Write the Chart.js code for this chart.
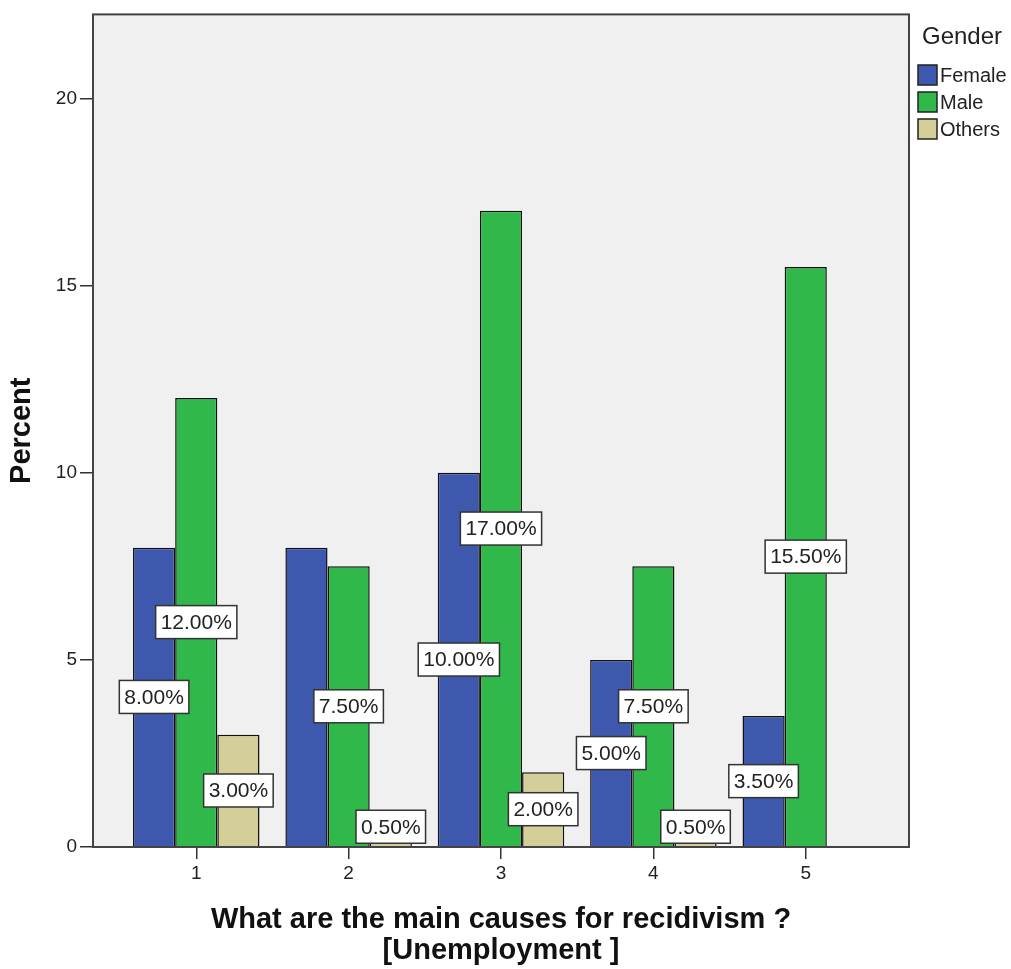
<!DOCTYPE html>
<html>
<head>
<meta charset="utf-8">
<script src="https://cdn.jsdelivr.net/npm/chart.js@4"></script>
<style>
  body { margin: 0; background: #fff; }
  #wrap { width: 1011px; height: 969px; }
</style>
</head>
<body>
<div id="wrap"><canvas id="myChart" width="1011" height="969"></canvas></div>
<script>
// datos
const categorias = [1, 2, 3, 4, 5]
const female = [8, 8, 10, 5, 3.5]
const male = [12, 7.5, 17, 7.5, 15.5]
const others = [3, 0.5, 2, 0.5, null]
const yTicks = [0, 5, 10, 15, 20]
const series = ['Female', 'Male', 'Others']
const colores = ['#3e58ad', '#30b84a', '#d4cf99']
// etiquetas que SPSS no muestra (serie, categoria)
const ocultas = ['0-1']

const FONT = "'Liberation Sans', Arial, sans-serif"

function puntos(arr) {
    return categorias.map((c, i) => ({ x: c, y: arr[i] }))
}

// fondo gris y marco del area
const marco = {
    id: 'marco',
    beforeDraw(chart) {
        const { ctx, chartArea: a } = chart
        ctx.save()
        ctx.fillStyle = '#f0f0f0'
        ctx.fillRect(a.left, a.top, a.right - a.left, a.bottom - a.top)
        ctx.restore()
    },
    afterDraw(chart) {
        const { ctx, chartArea: a } = chart
        ctx.save()
        ctx.strokeStyle = '#444'
        ctx.lineWidth = 2
        ctx.strokeRect(a.left, a.top, a.right - a.left, a.bottom - a.top)
        ctx.restore()
    }
}

// etiquetas con caja blanca en medio de cada barra
const etiquetas = {
    id: 'etiquetas',
    afterDatasetsDraw(chart) {
        const ctx = chart.ctx
        ctx.save()
        ctx.font = '21px ' + FONT
        ctx.textAlign = 'center'
        ctx.textBaseline = 'middle'
        chart.data.datasets.forEach((ds, d) => {
            const meta = chart.getDatasetMeta(d)
            meta.data.forEach((bar, i) => {
                const v = ds.data[i].y
                if (v == null || ocultas.includes(d + '-' + i)) return
                const txt = v.toFixed(2) + '%'
                const w = ctx.measureText(txt).width + 10
                const h = 33
                let cy = (bar.y + bar.base) / 2
                if (cy + h / 2 > bar.base - 3) cy = bar.base - 3 - h / 2
                ctx.fillStyle = '#fff'
                ctx.fillRect(bar.x - w / 2, cy - h / 2, w, h)
                ctx.strokeStyle = '#333'
                ctx.lineWidth = 1.5
                ctx.strokeRect(bar.x - w / 2, cy - h / 2, w, h)
                ctx.fillStyle = '#222'
                ctx.fillText(txt, bar.x, cy + 1)
            })
        })
        ctx.restore()
    }
}

// leyenda a la derecha
const leyenda = {
    id: 'leyenda',
    afterDraw(chart) {
        const ctx = chart.ctx
        ctx.save()
        ctx.textBaseline = 'middle'
        ctx.textAlign = 'left'
        ctx.fillStyle = '#222'
        ctx.font = '24px ' + FONT
        ctx.fillText('Gender', 922, 37)
        ctx.font = '20px ' + FONT
        var i = 0
        while (i < series.length) {
            const y = 75 + i * 27
            ctx.fillStyle = colores[i]
            ctx.fillRect(918, y - 10, 19, 20)
            ctx.strokeStyle = '#222'
            ctx.lineWidth = 1.5
            ctx.strokeRect(918, y - 10, 19, 20)
            ctx.fillStyle = '#222'
            ctx.fillText(series[i], 940, y + 1)
            i++
        }
        ctx.restore()
    }
}

var ctx = document.getElementById('myChart')
var myChart = new Chart(ctx, {
    type: 'bar',
    data: {
        datasets: series.map((s, i) => ({
            label: s,
            data: puntos([female, male, others][i]),
            backgroundColor: colores[i],
            borderColor: '#111',
            borderWidth: 1.5,
            categoryPercentage: 0.83,
            barPercentage: 1
        }))
    },
    options: {
        responsive: false,
        animation: false,
        layout: { padding: { left: 0, top: 7, right: 102, bottom: 0 } },
        plugins: {
            legend: { display: false },
            tooltip: { enabled: false }
        },
        scales: {
            x: {
                type: 'linear',
                offset: false,
                min: 1 - 103 / 152,
                max: 5 + 103 / 152,
                afterBuildTicks: (scale) => { scale.ticks = categorias.map(v => ({ value: v })) },
                afterFit: (scale) => { scale.height = 122 },
                grid: { offset: false, drawOnChartArea: false, tickLength: 12, color: '#333', lineWidth: 1.5 },
                border: { display: false },
                ticks: { color: '#222', font: { family: FONT, size: 19 }, padding: 3 },
                title: {
                    display: true,
                    text: ['What are the main causes for recidivism ?', '[Unemployment ]'],
                    color: '#111',
                    font: { family: FONT, size: 29, weight: 'bold', lineHeight: 1.05 },
                    padding: { top: 0, bottom: 3 }
                }
            },
            y: {
                min: 0,
                max: 22.25,
                afterBuildTicks: (scale) => { scale.ticks = yTicks.map(v => ({ value: v })) },
                afterFit: (scale) => { scale.width = 93 },
                grid: { drawOnChartArea: false, tickLength: 13, color: '#333', lineWidth: 1.5 },
                border: { display: false },
                ticks: { color: '#222', font: { family: FONT, size: 19 }, padding: 3 },
                title: {
                    display: true,
                    text: 'Percent',
                    color: '#111',
                    font: { family: FONT, size: 29, weight: 'bold' },
                    padding: { top: 5, bottom: 0 }
                }
            }
        }
    },
    plugins: [marco, etiquetas, leyenda]
})
</script>
</body>
</html>
